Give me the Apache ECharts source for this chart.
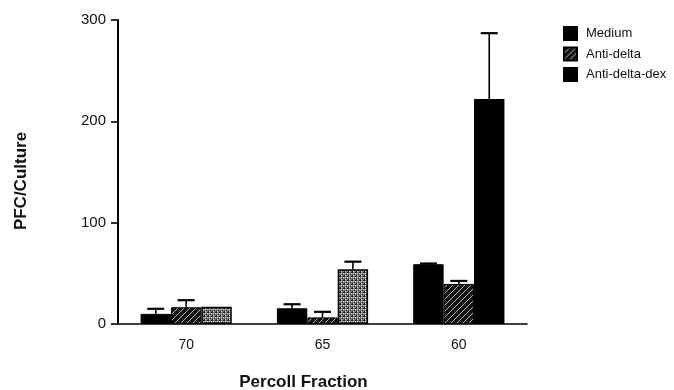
<!DOCTYPE html>
<html>
<head>
<meta charset="utf-8">
<script src="https://cdn.jsdelivr.net/npm/echarts@6/dist/echarts.min.js"></script>
<style>
html,body{margin:0;padding:0;background:#fff;}
#chart{width:674px;height:390px;}
</style>
</head>
<body>
<div id="chart"></div>
<script>
// ---- data ----
const categories = ['70', '65', '60'];
const seriesNames = ['Medium', 'Anti-delta', 'Anti-delta-dex'];
const medium = [10, 15.5, 59];
const antiDelta = [16.5, 6.5, 39.5];
const antiDeltaDex = [17, 54, 222];
const mediumErrTop = [15, 19.5, 59.7];
const antiDeltaErrTop = [23.5, 12, 42.5];
const antiDeltaDexErrTop = [null, 61.5, 287];
const yTicks = [0, 100, 200, 300];

// ---- fill patterns ----
function hatchPattern() {
  const c = document.createElement('canvas');
  c.width = 6; c.height = 6;
  const g = c.getContext('2d');
  g.fillStyle = '#111'; g.fillRect(0, 0, 6, 6);
  g.strokeStyle = '#c4c4c4'; g.lineWidth = 0.9;
  g.beginPath();
  g.moveTo(0, 6); g.lineTo(6, 0);
  g.moveTo(-1, 1); g.lineTo(1, -1);
  g.moveTo(5, 7); g.lineTo(7, 5);
  g.stroke();
  return c;
}
function stipplePattern() {
  const c = document.createElement('canvas');
  c.width = 4; c.height = 4;
  const g = c.getContext('2d');
  g.fillStyle = '#7a7a7a'; g.fillRect(0, 0, 4, 4);
  g.fillStyle = '#1a1a1a'; g.fillRect(0, 0, 1, 1); g.fillRect(2, 2, 1, 1); g.fillRect(3, 0, 1, 1); g.fillRect(0, 3, 1, 1);
  g.fillStyle = '#d8d8d8'; g.fillRect(1, 3, 1, 1); g.fillRect(3, 1, 1, 1); g.fillRect(1, 1, 1, 1);
  return c;
}
const hatch = { image: hatchPattern(), repeat: 'repeat' };
const stipple = { image: stipplePattern(), repeat: 'repeat' };

const BAR_FRAC = 0.223;
const FONT = "'Liberation Sans', Arial, sans-serif";

function errSeries(idx, vals, tops) {
  const data = [];
  vals.forEach((v, i) => { if (tops[i] != null) data.push([i, v, tops[i]]); });
  return {
    type: 'custom',
    name: seriesNames[idx] + ' error',
    z: 5,
    silent: true,
    data: data,
    encode: { x: 0, y: [1, 2] },
    renderItem: function (params, api) {
      const i = api.value(0), v = api.value(1), e = api.value(2);
      const base = api.coord([i, v]);
      const top = api.coord([i, e]);
      const band = api.size([1, 0])[0];
      const bw = band * BAR_FRAC;
      const x = base[0] + (idx - 1) * bw;
      return {
        type: 'group',
        children: [
          { type: 'line', shape: { x1: x, y1: base[1], x2: x, y2: top[1] }, style: { stroke: '#000', lineWidth: 1.6 } },
          { type: 'line', shape: { x1: x - 8.5, y1: top[1], x2: x + 8.5, y2: top[1] }, style: { stroke: '#000', lineWidth: 2.2 } }
        ]
      };
    }
  };
}

const chart = echarts.init(document.getElementById('chart'), null, { renderer: 'canvas' });
chart.setOption({
  animation: false,
  backgroundColor: '#fff',
  grid: { left: 118, right: 147, top: 20, bottom: 66, containLabel: false, outerBoundsMode: 'none' },
  legend: {
    orient: 'vertical',
    left: 558,
    top: 21,
    itemWidth: 13,
    itemHeight: 13,
    itemGap: 5.5,
    textStyle: { fontFamily: FONT, fontSize: 13, color: '#111', padding: [0, 0, 0, 4] },
    data: [
      { name: 'Medium', icon: 'rect' },
      { name: 'Anti-delta', icon: 'rect' },
      { name: 'Anti-delta-dex', icon: 'rect', itemStyle: { color: '#000' } }
    ]
  },
  xAxis: {
    type: 'category',
    data: categories,
    name: 'Percoll Fraction',
    nameLocation: 'middle',
    nameGap: 50,
    nameTextStyle: { fontFamily: FONT, fontSize: 17, fontWeight: 'bold', color: '#111', padding: [0, 38, 0, 0] },
    axisLine: { lineStyle: { color: '#000', width: 1.6 } },
    axisTick: { show: false },
    axisLabel: { fontFamily: FONT, fontSize: 14, color: '#111', margin: 14 },
    splitLine: { show: false }
  },
  yAxis: {
    type: 'value',
    min: yTicks[0],
    max: yTicks[yTicks.length - 1],
    interval: 100,
    name: 'PFC/Culture',
    nameLocation: 'middle',
    nameGap: 88,
    nameTextStyle: { fontFamily: FONT, fontSize: 17, fontWeight: 'bold', color: '#111', padding: [0, 18, 0, 0] },
    axisLine: { show: true, lineStyle: { color: '#000', width: 2 } },
    axisTick: { show: true, length: 7, lineStyle: { color: '#000', width: 1.6 } },
    axisLabel: { fontFamily: FONT, fontSize: 15, color: '#111', margin: 12 },
    splitLine: { show: false }
  },
  series: [
    {
      type: 'bar', name: 'Medium', data: medium,
      barWidth: (BAR_FRAC * 100) + '%', barGap: '0%',
      itemStyle: { color: '#000', borderColor: '#000', borderWidth: 1 }
    },
    {
      type: 'bar', name: 'Anti-delta', data: antiDelta,
      barWidth: (BAR_FRAC * 100) + '%', barGap: '0%',
      itemStyle: { color: hatch, borderColor: '#000', borderWidth: 1 }
    },
    {
      type: 'bar', name: 'Anti-delta-dex',
      data: antiDeltaDex.map((v, i) => i === 2 ? { value: v, itemStyle: { color: '#000' } } : v),
      barWidth: (BAR_FRAC * 100) + '%', barGap: '0%',
      itemStyle: { color: stipple, borderColor: '#000', borderWidth: 1.5 }
    },
    errSeries(0, medium, mediumErrTop),
    errSeries(1, antiDelta, antiDeltaErrTop),
    errSeries(2, antiDeltaDex, antiDeltaDexErrTop)
  ]
});
</script>
</body>
</html>
